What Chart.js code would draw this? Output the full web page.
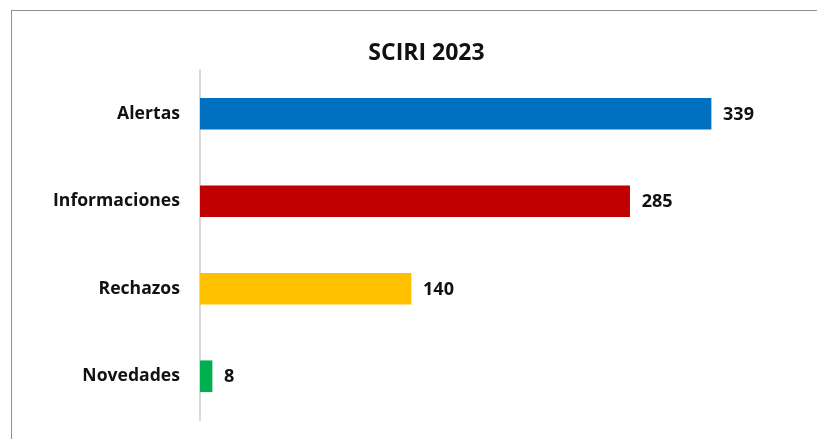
<!DOCTYPE html>
<html>
<head>
<meta charset="utf-8">
<script src="https://cdn.jsdelivr.net/npm/chart.js@4"></script>
<style>
  html, body { margin: 0; padding: 0; background: #ffffff; }
  #wrap { position: relative; width: 817px; height: 439px; }
  #frame { position: absolute; left: 11px; top: 10px; width: 806px; height: 429px;
           border-left: 1px solid #8f8f8f; border-top: 1px solid #8f8f8f; box-sizing: border-box; pointer-events: none; }
  canvas { position: absolute; left: 0; top: 0; }
</style>
</head>
<body>
<div id="wrap">
  <canvas id="c" width="817" height="439"></canvas>
  <div id="frame"></div>
</div>
<script>
const titleText = "SCIRI 2023";
const categories = ["Alertas", "Informaciones", "Rechazos", "Novedades"];
const values = [339, 285, 140, 8];
const barColors = ["#0070C0", "#C00000", "#FFC000", "#00B050"];

const valueLabels = {
  id: "valueLabels",
  afterDatasetsDraw(chart) {
    const ctx = chart.ctx;
    const meta = chart.getDatasetMeta(0);
    ctx.save();
    ctx.font = "bold 18px 'Open Sans'";
    ctx.fillStyle = "#111111";
    ctx.textAlign = "left";
    ctx.textBaseline = "middle";
    meta.data.forEach((bar, i) => {
      ctx.fillText(String(chart.data.datasets[0].data[i]), bar.x + 12, bar.y + 1);
    });
    ctx.restore();
  }
};

new Chart(document.getElementById("c"), {
  type: "bar",
  data: {
    labels: categories,
    datasets: [{
      data: values,
      backgroundColor: barColors,
      borderWidth: 0,
      barThickness: 31
    }]
  },
  options: {
    indexAxis: "y",
    responsive: false,
    animation: false,
    layout: { padding: { left: 50, right: 14, top: 40, bottom: 19 } },
    plugins: {
      legend: { display: false },
      tooltip: { enabled: false },
      title: {
        display: true,
        text: titleText,
        color: "#111111",
        font: { family: "'Open Sans'", size: 23, weight: "bold", lineHeight: 1.2 },
        padding: { top: 0, bottom: 2.4 }
      }
    },
    scales: {
      x: {
        display: false,
        min: 0,
        max: 400
      },
      y: {
        afterFit(scale) { scale.width = 150; scale.paddingTop = 0; scale.paddingBottom = 0; },
        grid: { display: false, drawTicks: false },
        border: { display: true, color: "#d9d9d9", width: 2 },
        ticks: {
          color: "#111111",
          padding: 20,
          font: { family: "'Open Sans'", size: 17.6, weight: "bold" }
        }
      }
    }
  },
  plugins: [valueLabels]
});
</script>
</body>
</html>
